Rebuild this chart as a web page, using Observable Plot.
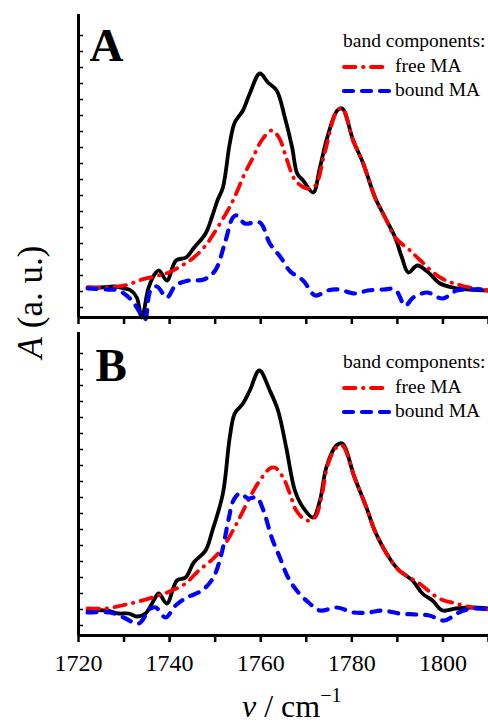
<!DOCTYPE html>
<html>
<head>
<meta charset="utf-8">
<script src="https://cdn.jsdelivr.net/npm/d3@7"></script>
<script src="https://cdn.jsdelivr.net/npm/@observablehq/plot@0.6"></script>
<style>
  body { margin: 0; background: #fff; }
  #wrap { position: relative; width: 488px; height: 723px; overflow: hidden; background: #fff; }
  #wrap > svg { position: absolute; left: 0; }
</style>
</head>
<body>
<div id="wrap"></div>
<script>
// ---- axis ticks ----
const xTicks = [1720, 1730, 1740, 1750, 1760, 1770, 1780, 1790, 1800, 1810];
const xTickLabels = [1720, 1740, 1760, 1780, 1800];
const yTicks = [10, 26, 42, 58, 74, 90, 106, 122, 138, 154, 170, 186, 202, 218, 234, 250, 266, 282];

// ---- series: [wavenumber (cm^-1), absorbance (a.u.)] ----
// Panel A
const totalA = [[1722,30],[1725,30],[1728,31],[1730,29],[1731.5,27],[1732.8,20],[1733.9,0],[1735.4,30],[1737,45],[1737.7,47],[1739.4,37],[1741.4,57],[1743.6,60],[1745.4,70],[1747.9,84],[1749.4,102],[1750.5,117],[1751.7,130],[1753.2,174],[1754.3,195],[1756.1,207],[1757.6,224],[1759.8,244],[1761.6,235],[1763.5,227],[1765.3,200],[1766.9,170],[1768,144],[1769.3,137],[1771.5,125],[1773,150],[1774.6,180],[1776.8,207],[1777.9,209],[1780.3,177],[1782.5,154],[1785.1,120],[1787.3,100],[1789.5,80],[1791,60],[1792.4,45],[1794.4,52],[1796.8,45],[1799.4,34],[1803.2,29],[1810,27]];
const freeA = [[1722,30],[1726,30],[1731,33],[1733.2,37],[1737.6,42],[1739.8,45],[1742.7,52],[1745.3,60],[1747.9,72],[1749.7,84],[1753.6,114],[1756.5,144],[1758.3,160],[1760.2,177],[1762.4,187],[1764,180],[1765.8,157],[1767.6,137],[1770.2,129],[1772,132],[1774,164],[1776.8,207],[1777.9,209],[1780.3,177],[1782.5,154],[1785.1,120],[1787.3,100],[1789.5,80],[1792.8,67],[1794.6,59],[1799.4,40],[1804,32],[1810,27]];
const boundA = [[1722,29],[1726,28],[1728.8,27],[1731.7,17],[1733.6,4],[1734.6,-2],[1735.8,27],[1737.2,31],[1739.4,20],[1741.3,32],[1744.2,37],[1747.5,38],[1750,47],[1752.1,74],[1753.9,100],[1754.8,102],[1756.5,94],[1759.8,95],[1762,74],[1764.4,60],[1766.5,46],[1769.3,37],[1772,22],[1774.6,27],[1777,28],[1780.7,24],[1783.5,27],[1787,28],[1789.5,28],[1791.7,12],[1793.5,20],[1796.5,25],[1799.9,19],[1803,27],[1806,28],[1810,28]];
// Panel B
const totalB = [[1722,25],[1726,25],[1728.8,22],[1731,22],[1732.8,19],[1734.7,22],[1736.5,35],[1737.6,42],[1739.4,32],[1741.6,55],[1743.5,58],[1745.3,73],[1747.9,85],[1749.4,105],[1751.7,142],[1753.2,198],[1754.3,222],[1756.1,232],[1757.6,245],[1759.7,265],[1762,245],[1763.8,225],[1765.6,188],[1767.5,145],[1769.3,128],[1771.5,118],[1773,135],[1774.4,168],[1776.6,190],[1777.9,192],[1780.6,158],[1783.2,128],[1785.3,102],[1788.6,75],[1790.4,65],[1793.3,55],[1795.5,42],[1797.7,35],[1799.9,25],[1802.8,27],[1806.5,28],[1810,27]];
const freeB = [[1722,27],[1726,27],[1729.5,30],[1733.2,34],[1737.6,40],[1740.5,45],[1743.5,52],[1746.4,65],[1749.6,77],[1751.7,88],[1753.9,105],[1755.4,118],[1757.6,138],[1759.8,155],[1762,167],[1763.1,168],[1764.9,158],[1766.4,142],[1767.8,125],[1770.1,115],[1771.9,118],[1773.3,138],[1774.8,172],[1776.6,188],[1777.9,190],[1780.6,158],[1783.2,128],[1785.3,102],[1788.6,75],[1790.4,65],[1794.8,52],[1799.2,37],[1802.8,32],[1806.5,28],[1810,26]];
const boundB = [[1722,23],[1727,23],[1729.9,18],[1733.2,12],[1735.8,27],[1737,28],[1739.1,18],[1741.3,30],[1743.8,38],[1747.1,45],[1749.6,58],[1751.4,82],[1752.9,115],[1754,135],[1755.4,142],[1757.3,137],[1759.1,138],[1760.6,125],[1762.4,98],[1764.2,78],[1766,58],[1767.9,45],[1770.5,33],[1773,25],[1776.7,28],[1780.4,23],[1783.6,23],[1786.8,25],[1790.4,22],[1794.1,21],[1797,20],[1800.3,15],[1803.5,23],[1806.5,27],[1810,26]];

const legendTitle = "band components:";
const legendFree = "free MA";
const legendBound = "bound MA";

const FONT = "'Liberation Serif', 'Times New Roman', serif";
const RED = "#ff0000", BLUE = "#0000ff";
const RED_DASH = "11.5,7.5,0.5,7.5", BLUE_DASH = "9,9";

function panel({letter, total, free, bound, height, marginBottom, labels, letterDx, letterDy}) {
  const line = (data, o) => Plot.line(data, {x: d => d[0], y: d => d[1], curve: "catmull-rom", strokeLinejoin: "round", ...o});
  return Plot.plot({
    width: 488, height,
    marginLeft: 78, marginRight: 0, marginTop: 14, marginBottom,
    x: {domain: [1720, 1810]},
    y: {domain: [0, 303]},
    style: {fontFamily: FONT, background: "transparent", overflow: "visible", color: "#000"},
    marks: [
      Plot.axisY({ticks: yTicks, tickSize: 4, dx: 5, strokeWidth: 1.5, tickFormat: () => "", label: null}),
      Plot.axisX({ticks: xTicks, tickSize: 7, strokeWidth: 2.5, tickPadding: 11, fontSize: 24,
        tickFormat: d => (labels && xTickLabels.includes(d)) ? String(d) : "", label: null}),
      line(total, {stroke: "#000", strokeWidth: 3.8}),
      line(free, {stroke: RED, strokeWidth: 3.8, strokeDasharray: RED_DASH, strokeLinecap: "round"}),
      line(bound, {stroke: BLUE, strokeWidth: 4.2, strokeDasharray: BLUE_DASH, strokeLinecap: "round"}),
      Plot.ruleX([1720], {strokeWidth: 3}),
      Plot.ruleY([0], {strokeWidth: 3}),
      Plot.text([letter], {text: d => d, frameAnchor: "top-left", textAnchor: "start", lineAnchor: "bottom",
        dx: letterDx, dy: letterDy, fontSize: 47, fontWeight: "bold", fill: "#000"})
    ]
  });
}

const wrap = document.getElementById("wrap");
const svgA = panel({letter: "A", total: totalA, free: freeA, bound: boundA, height: 330, marginBottom: 13, labels: false, letterDx: 11, letterDy: 46});
svgA.style.top = "0px";
const svgB = panel({letter: "B", total: totalB, free: freeB, bound: boundB, height: 405, marginBottom: 88, labels: true, letterDx: 17, letterDy: 48});
svgB.style.top = "318px";
wrap.appendChild(svgA);
wrap.appendChild(svgB);

// ---- overlay: legends and axis titles ----
const ov = d3.select(wrap).append("svg")
  .attr("width", 488).attr("height", 723)
  .style("top", "0px").style("pointer-events", "none")
  .style("font-family", FONT);

function legend(titleY, freeY, boundY) {
  const g = ov.append("g").attr("font-size", 19.5).attr("fill", "#000");
  g.append("text").attr("x", 343).attr("y", titleY).text(legendTitle);
  g.append("line").attr("x1", 344).attr("x2", 390).attr("y1", freeY - 5).attr("y2", freeY - 5)
    .attr("stroke", RED).attr("stroke-width", 3.8).attr("stroke-dasharray", RED_DASH).attr("stroke-linecap", "round");
  g.append("text").attr("x", 395).attr("y", freeY).text(legendFree);
  g.append("line").attr("x1", 344).attr("x2", 390).attr("y1", boundY - 5).attr("y2", boundY - 5)
    .attr("stroke", BLUE).attr("stroke-width", 4.2).attr("stroke-dasharray", BLUE_DASH).attr("stroke-linecap", "round");
  g.append("text").attr("x", 395).attr("y", boundY).text(legendBound);
}
legend(47, 72, 96);
legend(368, 393, 417);

// y title
const yt = ov.append("text").attr("transform", "translate(42,302) rotate(-90)")
  .attr("text-anchor", "middle").attr("font-size", 35).attr("fill", "#000");
yt.append("tspan").attr("font-style", "italic").text("A");
yt.append("tspan").text(" (a. u.)");

// x title
const xt = ov.append("text").attr("x", 242).attr("y", 717).attr("font-size", 32).attr("fill", "#000");
xt.append("tspan").attr("font-style", "italic").text("ν");
xt.append("tspan").text(" / cm");
xt.append("tspan").attr("font-size", 20).attr("dy", -15).text("−1");
</script>
</body>
</html>
